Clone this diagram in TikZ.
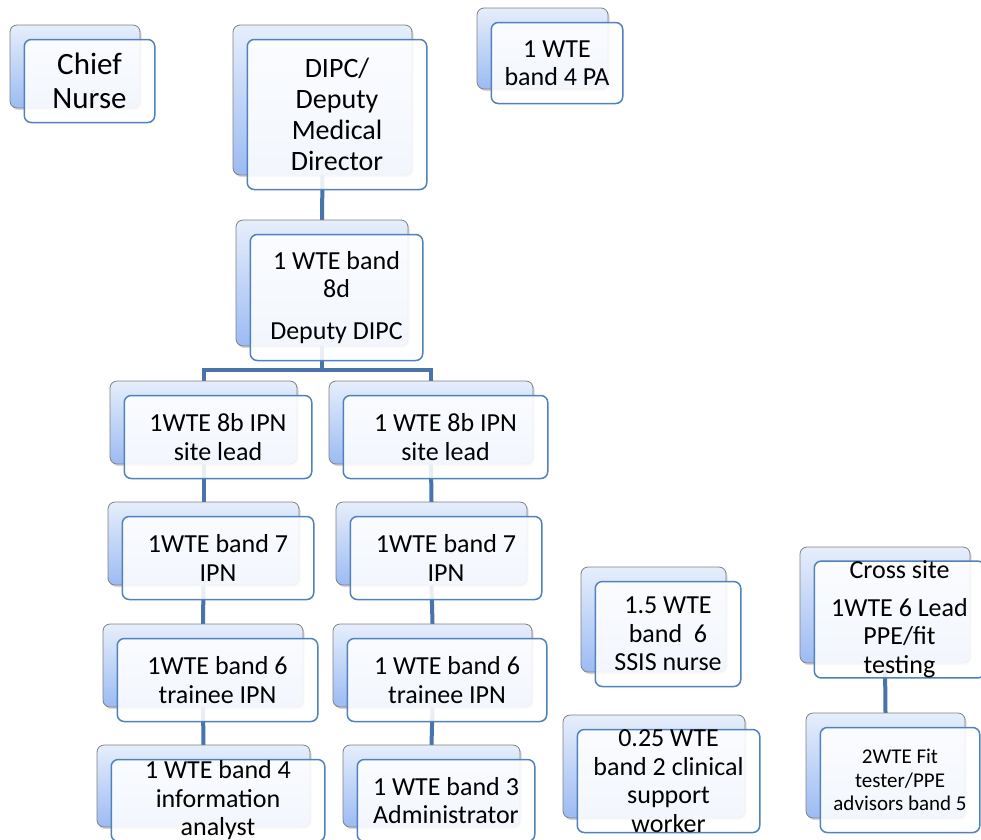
\documentclass[tikz,border=0pt]{standalone}
\usepackage{fontspec}
\setmainfont{Carlito}
\usetikzlibrary{shadows}
\pgfdeclarelayer{bg}
\pgfsetlayers{bg,main}
\definecolor{frontline}{RGB}{79,129,189}
\definecolor{conncol}{RGB}{72,116,170}
\definecolor{backtop}{RGB}{230,238,251}
\definecolor{backbot}{RGB}{156,187,243}
\definecolor{backline}{RGB}{128,128,128}
\tikzset{
  backbox/.style={rectangle, rounded corners=7pt, draw=backline, line width=0.8pt,
    top color=backtop, bottom color=backbot,
    drop shadow={opacity=0.3, shadow xshift=1.5pt, shadow yshift=-2pt},
    inner sep=0pt, outer sep=0pt},
  frontbox/.style={rectangle, rounded corners=7pt, draw=frontline, line width=1.5pt,
    fill=white, fill opacity=0.88, text opacity=1, draw opacity=1,
    inner sep=0pt, outer sep=0pt, align=center, font=\fontsize{26}{28.5}\selectfont},
  conn/.style={draw=conncol, line width=4pt},
}
% #1 extra front options, #2 name, #3..#6 back box corners (x1,y1,x2,y2), #7 text
\newcommand\orgbox[7][]{%
  \node[backbox, minimum width={(#5-#3)*1pt}, minimum height={(#6-#4)*1pt}]
    (#2B) at ({(#3+#5)/2},{(#4+#6)/2}) {};
  \node[frontbox, minimum width={(#5-#3+0.5)*1pt}, minimum height={(#6-#4)*1pt}, #1]
    (#2) at ({(#3+#5)/2+14.5},{(#4+#6)/2+14.5}) {#7};
}
\begin{document}
\begin{tikzpicture}[x=1pt,y=-1pt]
\useasboundingbox (0,0) rectangle (981,839);
\orgbox[font=\fontsize{31}{34}\selectfont]{chief}{10}{25}{140}{108}{Chief\\Nurse}
\orgbox[font=\fontsize{28}{31}\selectfont]{dipc}{233}{25}{412}{175}{DIPC/\\Deputy\\Medical\\Director}
\orgbox{pa}{477}{8}{608}{89}{1 WTE\\band 4 PA}
\orgbox{dep}{236}{220}{408}{346}{1 WTE band\\8d\\[13pt]Deputy DIPC}
\orgbox{slL}{110}{381}{297}{464}{1WTE 8b IPN\\site lead}
\orgbox{slR}{329}{381}{533}{464}{1 WTE 8b IPN\\site lead}
\orgbox{sevL}{108}{502}{299}{585}{1WTE band 7\\IPN}
\orgbox{sevR}{336}{502}{527}{585}{1WTE band 7\\IPN}
\orgbox{sixL}{103}{624}{303}{707}{1WTE band 6\\trainee IPN}
\orgbox{sixR}{333}{624}{532}{707}{1 WTE band 6\\trainee IPN}
\orgbox{fourL}{97}{745}{310}{827}{1 WTE band 4\\information\\analyst}
\orgbox{threeR}{343}{745}{520}{827}{1 WTE band 3\\Administrator}
\orgbox{ssis}{581}{567}{726}{672}{1.5 WTE\\band\ \ 6\\SSIS nurse}
\orgbox{csw}{563}{715}{745}{818}{0.25 WTE\\band 2 clinical\\support\\worker}
\orgbox{cross}{800}{547}{970}{663}{Cross site\\[9pt]1WTE 6 Lead\\PPE/fit\\testing}
\orgbox[font=\fontsize{21}{23.5}\selectfont]{fit}{806}{713}{965}{818}{2WTE Fit\\tester/PPE\\advisors band 5}
\coordinate (bar) at (322,370);
\begin{pgfonlayer}{bg}
\fill[white] (0,0) rectangle (981,839);
\draw[conn] (dipcB.south) -- (depB.north);
\draw[conn] (depB.south) -- (bar);
\draw[conn] (bar) -| (slLB.north);
\draw[conn] (bar) -| (slRB.north);
\draw[conn] (slLB.south) -- (sevLB.north);
\draw[conn] (sevLB.south) -- (sixLB.north);
\draw[conn] (sixLB.south) -- (fourLB.north);
\draw[conn] (slRB.south) -- (sevRB.north);
\draw[conn] (sevRB.south) -- (sixRB.north);
\draw[conn] (sixRB.south) -- (threeRB.north);
\draw[conn] (crossB.south) -- (fitB.north);
\end{pgfonlayer}
\end{tikzpicture}
\end{document}
